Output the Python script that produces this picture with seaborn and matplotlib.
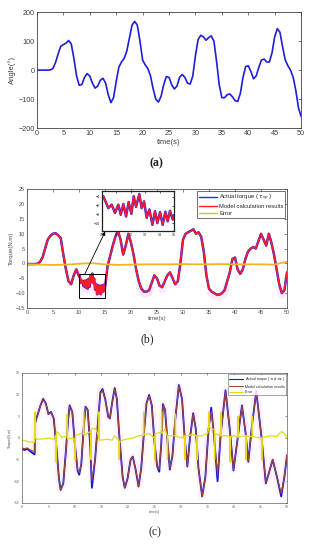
import numpy as np
import pandas as pd
import matplotlib
matplotlib.use('Agg')
import matplotlib.pyplot as plt
from matplotlib.patches import Rectangle
import seaborn as sns

sns.set_theme(style='white')
plt.rcParams['font.family'] = ['Liberation Sans', 'Noto Sans CJK SC', 'DejaVu Sans']

# ---------- (a) joint angle ----------
time_a = np.arange(0, 50.01, 0.5)
angle_a = [0, 0, 0, 0, 0, 0.5,
           5, 25, 55, 82, 88, 93, 102, 90, 40, -20,
           -52, -50, -25, -12, -20, -45, -62, -55, -35, -28,
           -45, -85, -112, -95, -40, 10, 28, 40, 65, 110,
           155, 168, 155, 100, 35, 18, 5, -20, -65, -100,
           -110, -90, -50, -22, -25, -50, -65, -55, -25, -15,
           -25, -45, -48, -20, 50, 105, 120, 115, 103, 112,
           118, 100, 30, -50, -95, -95, -85, -82, -92, -105,
           -108, -80, -25, 12, 15, -5, -30, -20, 10, 35,
           38, 28, 28, 60, 115, 143, 130, 80, 35, 15,
           0, -25, -70, -130, -160]

# ---------- (b) torque ----------
time_b_start = np.arange(0, 9.6, 0.5)
torque_b_start = [-0.2, -0.2, -0.2, -0.2, -0.1, 0.5, 2, 5, 8, 9.3,
                  10, 10.2, 9.5, 8.5, 3, -2, -6, -7, -4, -2]
time_b_zoom = [10.0, 10.09, 10.44, 10.67, 10.90, 11.13, 11.30, 11.48, 11.67, 11.85,
               12.04, 12.20, 12.36, 12.59, 12.75, 12.92, 13.10, 13.29, 13.50, 13.68,
               13.84, 14.03, 14.21, 14.40, 14.56, 14.72, 14.91, 15.0]
torque_b_zoom = [-4.3, -3.9, -6.6, -5.8, -7.7, -5.8, -8.1, -5.65, -8.5, -5.2,
                 -7.9, -3.9, -6.3, -3.4, -6.6, -5.05, -8.8, -6.9, -10.4, -7.3,
                 -10.0, -7.5, -10.4, -7.4, -9.6, -7.2, -9.2, -8.3]
time_b_end = np.arange(15.5, 50.01, 0.5)
torque_b_end = [-1, 2.5, 6, 9, 11, 8, 3, 6, 10, 7,
                3, -2, -6, -8.5, -9.5, -9.5, -9, -6.5, -4, -5,
                -7.5, -8, -6, -4, -3, -5, -7, -6, 0, 8,
                10, 10.5, 11, 11.5, 10, 10.5, 9, 4, -4, -8.5,
                -9.5, -10, -10.5, -10.5, -10, -9, -6, -3, 1.5, 2,
                -2, -3.5, -2, 1.5, 4, 5, 5.5, 5, 7.5, 10,
                8, 6, 10, 7, 3, -2, -7, -10, -9, -3]
time_err_b = np.arange(0, 50.01, 2.5)
err_b = [-0.3, -0.4, -0.5, -0.4, -0.1, 0.1, -0.3, -0.5, -0.4, -0.3, -0.3,
         -0.3, -0.2, -0.3, -0.3, -0.2, -0.3, -0.3, -0.3, -0.4, 0.6]

# ---------- (c) torque ----------
time_c = [0.0, 0.5, 1.0, 1.5, 2.0, 2.4, 2.5, 3.0, 3.5, 4.0, 4.5, 5.0, 5.5, 6.0, 6.5, 7.0,
          7.3, 7.8, 8.3, 8.7, 9.0, 9.5, 10.0, 10.5, 10.8, 11.2, 11.6, 12.0, 12.4, 12.9,
          13.2, 13.8, 14.3, 14.8, 15.2, 15.7, 16.3, 16.6, 17.0, 17.5, 17.9, 18.4, 19.0,
          19.4, 19.9, 20.5, 20.9, 21.4, 22.0, 22.5, 23.0, 23.5, 24.0, 24.5, 25.0, 25.5,
          25.9, 26.3, 26.6, 27.0, 27.4, 27.9, 28.4, 28.9, 29.6, 30.2, 30.7, 31.2, 31.7,
          32.3, 32.8, 33.3, 34.0, 34.6, 35.2, 35.7, 36.2, 36.9, 37.5, 38.4, 39.2, 39.9,
          40.7, 41.5, 42.2, 42.7, 43.4, 44.2, 45.2, 46.0, 46.6, 47.3, 48.1, 48.9, 49.5, 50.0]
actual_c = [-2.5, -2.8, -2.5, -3.0, -3.5, -3.8, 3.5, 5.5, 7.5, 9.0, 8.0, 5.5, 6.0, 4.5,
            -2.0, -9.5, -12.0, -10.5, -3.0, 4.0, 7.5, 6.0, -1.5, -7.5, -8.5, -6.0, 1.5,
            7.2, 6.5, -2.0, -11.5, -5.0, 3.0, 10.5, 11.3, 9.0, 4.8, 4.5, 8.0, 11.5, 9.0,
            0.0, -9.0, -11.5, -9.5, -5.0, -4.3, -7.0, -11.2, -7.0, 1.0, 8.0, 9.9, 7.5,
            -1.0, -6.5, -7.8, -1.0, 7.8, 6.5, 0.0, -7.3, -4.0, 4.0, 12.2, 9.0, 0.0, -6.6,
            0.0, 5.7, 2.0, -7.0, -13.5, -9.0, 2.0, 7.0, 1.0, -10.0, 1.0, 11.0, 2.0, -7.5,
            0.0, 7.5, 1.0, -5.5, 3.0, 10.8, 0.0, -10.5, -8.0, -5.0, -9.0, -13.5, -9.0, -4.0]
model_c = [-2.3, -2.5, -2.3, -2.7, -3.0, -3.3, 3.5, 5.5, 7.5, 8.8, 8.0, 5.5, 5.8, 4.5,
           -2.0, -9.5, -12.0, -10.5, -3.0, 4.0, 7.3, 6.0, -1.5, -7.3, -8.0, -6.0, 1.5,
           7.0, 6.5, -2.0, -9.8, -5.0, 3.0, 10.3, 11.0, 9.0, 4.8, 4.5, 8.0, 11.3, 9.0,
           0.0, -9.0, -11.5, -9.5, -5.0, -4.3, -7.0, -11.0, -7.0, 1.0, 8.0, 9.7, 7.5,
           -1.0, -6.5, -7.2, -1.0, 7.6, 6.5, 0.0, -7.0, -4.0, 4.0, 12.0, 9.0, 0.0, -6.4,
           0.0, 5.5, 2.0, -7.0, -13.5, -9.0, 2.0, 6.2, 1.0, -8.5, 1.0, 10.8, 2.0, -7.3,
           0.0, 7.3, 1.0, -5.3, 3.0, 10.6, 0.0, -10.3, -8.0, -5.0, -9.0, -12.8, -9.0, -4.0]
time_err_c = [0, 1, 2, 2.4, 2.45, 2.5, 3, 4, 5, 6,
              6.4, 6.45, 6.5, 7, 7.5, 8, 8.5, 8.55, 8.6, 9.5,
              10, 10.05, 10.1, 11, 11.6, 11.65, 11.7, 12.5, 13, 13.05,
              13.1, 13.5, 14, 14.5, 14.55, 14.6, 15, 16, 17, 17.5,
              18.3, 18.35, 18.4, 19, 20, 21, 22, 22.9, 22.95, 23,
              24, 25, 25.05, 25.1, 26, 26.3, 26.35, 26.4, 27, 27.4,
              27.45, 27.5, 28.5, 28.9, 28.95, 29, 30, 30.7, 30.75, 30.8,
              31.5, 32, 33, 33.05, 33.1, 34, 35, 35.2, 35.25, 35.3,
              36, 36.3, 36.35, 36.4, 37.5, 37.55, 37.6, 38.5, 39.2, 39.25,
              39.3, 40, 40.7, 40.75, 40.8, 42, 42.2, 42.25, 42.3, 43.4,
              43.45, 43.5, 45, 45.2, 45.25, 45.3, 46, 47, 48, 49,
              49.5, 50]
err_c = [-0.5, -0.8, -1.0, -1.0, 6.0, 0.0, -0.3, -0.2, 0.0, -0.3,
         0.5, -5.5, 1.5, 1.0, 0.0, 0.3, 0.3, 5.5, -0.3, 0.0,
         -0.3, -5.0, 0.5, 1.0, 1.0, 6.0, 0.5, 1.2, 1.5, -5.0,
         2.0, 2.2, 2.0, 0.0, 6.0, -0.5, -0.5, -0.3, -0.5, 0.5,
         -0.5, -5.0, -1.0, -0.5, -0.2, 0.0, 0.5, 0.5, 6.0, 0.8,
         1.0, 0.0, -5.0, 1.0, 1.2, 1.5, 6.0, 1.0, 2.0, 0.5,
         -5.0, 0.5, 0.5, 0.5, 5.5, 0.5, 0.0, 0.5, -5.0, 0.5,
         0.5, 0.8, 0.5, -5.0, 0.5, 0.5, 1.0, 2.0, 6.0, 2.5,
         2.0, 2.0, -5.0, 1.0, 0.5, 6.0, 0.5, 0.5, 0.3, -5.5,
         0.3, 0.5, 0.2, 5.0, 0.2, 0.5, 0.5, -5.0, 0.5, 0.3,
         5.0, 0.3, 0.0, 0.0, -5.0, 0.0, 0.3, 0.5, 0.3, 1.5,
         1.0, 0.0]

time_b = np.concatenate([time_b_start, time_b_zoom, time_b_end])
actual_b = np.array(torque_b_start + torque_b_zoom + torque_b_end)
model_b = actual_b.copy()  # red overlaps blue within reading precision
df_b = pd.DataFrame({'t': time_b, 'actual': actual_b, 'model': model_b})


def matlab_axes(ax, fs, col='#404040', lw=0.6):
    ax.tick_params(direction='in', top=True, right=True, labelsize=fs, colors=col,
                   length=2, width=0.5, pad=1.5)
    for s in ax.spines.values():
        s.set_color(col)
        s.set_linewidth(lw)
    ax.set_facecolor('white')


fig = plt.figure(figsize=(3.13, 5.5), dpi=100)

# (a)
ax_a = fig.add_axes([0.118, 0.767, 0.844, 0.211])
sns.lineplot(x=time_a, y=angle_a, ax=ax_a, color='#1e1ed8', lw=1.2, estimator=None)
ax_a.set_xlim(0, 50)
ax_a.set_ylim(-200, 200)
ax_a.set_xticks(range(0, 51, 5))
ax_a.set_yticks(range(-200, 201, 100))
ax_a.set_xlabel('time(s)', fontsize=5.5, color='#404040', labelpad=1)
ax_a.set_ylabel('Angle(°)', fontsize=5.5, color='#404040', labelpad=2)
matlab_axes(ax_a, 5.2)

# (b)
ax_b = fig.add_axes([0.086, 0.44, 0.831, 0.216])
haze = np.where(actual_b < -5, actual_b, np.nan)
ax_b.plot(time_b, haze - 0.8, color='#fad7f3', lw=5, alpha=0.5, solid_capstyle='butt')
sns.lineplot(data=df_b, x='t', y='actual', ax=ax_b, color='#2a2ae6', lw=1.8,
             estimator=None, label='Actual torque ( $\\tau_{sp}$ )')
sns.lineplot(data=df_b, x='t', y='model', ax=ax_b, color='#ff1a2a', lw=1.2,
             estimator=None, label='Model calculation results')
sns.lineplot(x=time_err_b, y=err_b, ax=ax_b, color='#f2b51e', lw=1.3,
             estimator=None, label='Error')
ax_b.set_xlim(0, 50)
ax_b.set_ylim(-15, 25)
ax_b.set_xticks(range(0, 51, 5))
ax_b.set_yticks(range(-15, 26, 5))
ax_b.set_xlabel('time(s)', fontsize=4.3, color='#505050', labelpad=1)
ax_b.set_ylabel('Torque(N.m)', fontsize=4.3, color='#505050', labelpad=1)
matlab_axes(ax_b, 4.0, '#505050')
leg = ax_b.legend(loc='upper right', fontsize=4.2, frameon=True, fancybox=False,
                  handlelength=3.2, handletextpad=0.3, labelspacing=0.25,
                  borderpad=0.3, borderaxespad=0.3)
leg.get_frame().set_edgecolor('#303030')
leg.get_frame().set_linewidth(0.6)
for ln in leg.get_lines():
    ln.set_linewidth(1.0)
ax_b.add_patch(Rectangle((10, -11.8), 5, 8.3, fill=False, ec='black', lw=0.7, zorder=5))
ax_b.annotate('', xy=(0.336, 0.579), xycoords='figure fraction',
              xytext=(11.15, -3.5), textcoords='data',
              arrowprops=dict(arrowstyle='-|>', color='black', lw=0.6,
                              mutation_scale=5, shrinkA=0, shrinkB=0))

# (b) inset
ax_in = fig.add_axes([0.326, 0.58, 0.230, 0.0727])
sns.lineplot(x=time_b_zoom, y=torque_b_zoom, ax=ax_in, color='#2a2ae6', lw=1.8, estimator=None)
sns.lineplot(x=time_b_zoom, y=torque_b_zoom, ax=ax_in, color='#ff1a2a', lw=1.1, estimator=None)
ax_in.set_xlim(10, 15)
ax_in.set_ylim(-11.8, -2.7)
ax_in.set_xticks(range(10, 16))
ax_in.set_yticks([-10, -8, -6, -4])
ax_in.set_xlabel('')
ax_in.set_ylabel('')
matlab_axes(ax_in, 2.6, '#202020', 0.9)
ax_in.tick_params(length=1.2)

# (c)
ax_c = fig.add_axes([0.070, 0.0855, 0.847, 0.2365])
ax_c.plot(time_c, model_c, color='#fdeaf6', lw=5, alpha=0.6)
sns.lineplot(x=time_c, y=actual_c, ax=ax_c, color='#1414e0', lw=1.3, estimator=None,
             label='Actual torque ( $\\tau_{sp}/\\tau_{ep}$ )')
sns.lineplot(x=time_c, y=model_c, ax=ax_c, color='#a04a2e', lw=0.8, estimator=None,
             label='Model calculation results')
sns.lineplot(x=time_err_c, y=err_c, ax=ax_c, color='#e2dc12', lw=0.9, estimator=None,
             sort=False, label='Error')
ax_c.set_xlim(0, 50)
ax_c.set_ylim(-15, 15)
ax_c.set_xticks(range(0, 51, 5))
ax_c.set_yticks(range(-15, 16, 5))
ax_c.set_xlabel('time(s)', fontsize=2.6, color='#505050', labelpad=0.5)
ax_c.set_ylabel('Torque(N.m)', fontsize=2.6, color='#505050', labelpad=1)
matlab_axes(ax_c, 2.5, '#606060', 0.5)
ax_c.tick_params(length=1.5)
leg_c = ax_c.legend(loc='upper right', fontsize=2.6, frameon=True, fancybox=False,
                    handlelength=4, handletextpad=0.4, labelspacing=0.3,
                    borderpad=0.3, borderaxespad=0.2)
leg_c.get_frame().set_edgecolor('#404040')
leg_c.get_frame().set_linewidth(0.4)
for ln in leg_c.get_lines():
    ln.set_linewidth(0.8)

# captions
fig.text(0.5, 0.704, '(a)', ha='center', va='center', fontsize=8.5,
         family='Liberation Serif', weight='bold', color='#222222')
fig.text(0.47, 0.384, '(b)', ha='center', va='center', fontsize=8.5,
         family='Liberation Serif', color='#222222')
fig.text(0.495, 0.033, '(c)', ha='center', va='center', fontsize=8.5,
         family='Liberation Serif', color='#222222')

fig.savefig('out.png', dpi=100)
